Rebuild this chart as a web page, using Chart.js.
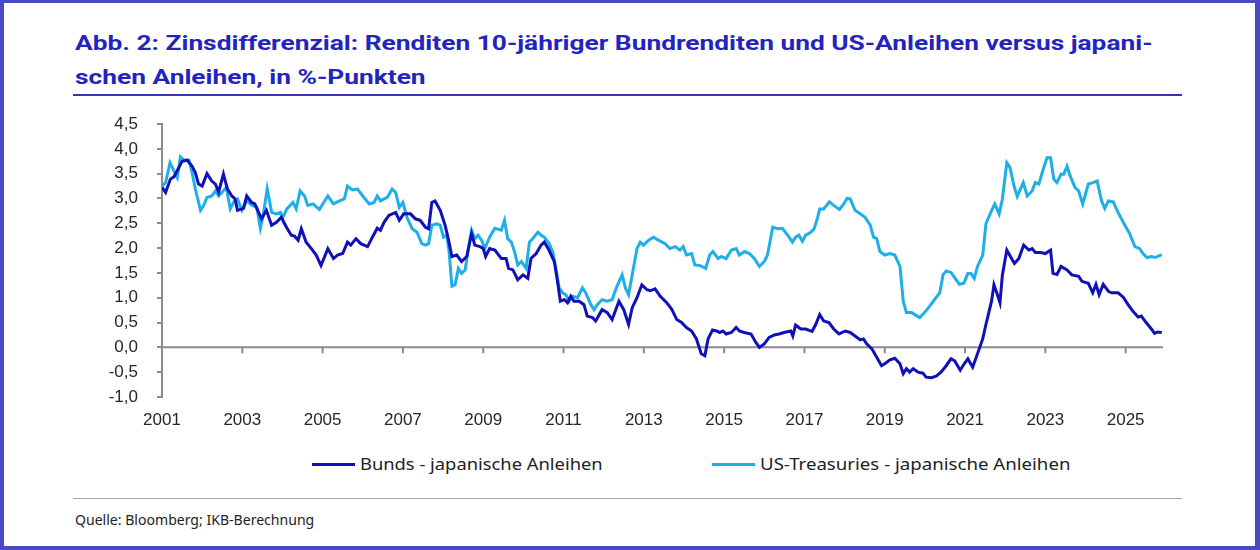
<!DOCTYPE html>
<html>
<head>
<meta charset="utf-8">
<script src="https://cdn.jsdelivr.net/npm/chart.js@4.4.1/dist/chart.umd.min.js"></script>
<style>
  html, body { margin: 0; padding: 0; background: #fff; }
  #frame { position: relative; width: 1260px; height: 550px; box-sizing: border-box;
    border-style: solid; border-color: #4a4ac6; border-width: 3px 5px 4px 4px; overflow: hidden; }
  .abs { position: absolute; white-space: nowrap; transform-origin: 0 50%; }
  .title { font-family: Roboto, 'Noto Sans', sans-serif; font-weight: 700; font-size: 21px;
    line-height: 21px; color: #2323c0; }
  .legtxt { font-family: 'Noto Sans', 'Open Sans', sans-serif; font-size: 16px; line-height: 20px; color: #222; }
  .foot { font-family: 'Noto Sans', 'Open Sans', sans-serif; font-size: 14px; line-height: 18px; color: #222; }
  #chartBox { position: absolute; left: -4px; top: 97px; }
</style>
</head>
<body>
<div id="frame">
  <div class="abs title" id="t1" style="left:71px; top:30px;">Abb. 2: Zinsdifferenzial: Renditen 10-jähriger Bundrenditen und US-Anleihen versus japani-</div>
  <div class="abs title" id="t2" style="left:71px; top:64px;">schen Anleihen, in %-Punkten</div>
  <div class="abs" style="left:69px; top:91px; width:1109px; height:1.5px; background:#3434b4;"></div>

  <div class="abs" style="left:308px; top:459.5px; width:43px; height:3px; background:#1010b8;"></div>
  <div class="abs legtxt" id="l1" style="left:356px; top:451px;">Bunds - japanische Anleihen</div>
  <div class="abs" style="left:708px; top:459.5px; width:43px; height:3px; background:#1eaee8;"></div>
  <div class="abs legtxt" id="l2" style="left:756px; top:451px;">US-Treasuries - japanische Anleihen</div>

  <div class="abs" style="left:69px; top:495px; width:1109px; height:1px; background:#a6a6a6;"></div>
  <div class="abs foot" id="f1" style="left:71px; top:508px;">Quelle: Bloomberg; IKB-Berechnung</div>

  <div id="chartBox"><canvas id="c" width="1260" height="345"></canvas></div>
</div>
<script>
// ---- Data (decimal year, %-points) ----
const bundsSeries = [
 [2001.01,3.22],[2001.09,3.12],[2001.21,3.39],[2001.30,3.44],[2001.50,3.75],[2001.63,3.77],[2001.75,3.65],[2001.83,3.52],[2001.91,3.29],[2002.00,3.25],
 [2002.12,3.50],[2002.24,3.35],[2002.33,3.29],[2002.41,3.13],[2002.53,3.49],[2002.63,3.19],[2002.74,3.05],[2002.82,2.99],[2002.88,2.76],[2003.03,2.80],
 [2003.11,3.05],[2003.23,2.92],[2003.31,2.89],[2003.48,2.59],[2003.60,2.76],[2003.73,2.46],[2003.85,2.52],[2003.97,2.62],[2004.10,2.42],[2004.22,2.26],
 [2004.30,2.24],[2004.39,2.16],[2004.47,2.39],[2004.59,2.12],[2004.72,1.99],[2004.84,1.86],[2004.96,1.65],[2005.13,1.99],[2005.27,1.79],[2005.37,1.86],
 [2005.50,1.89],[2005.62,2.12],[2005.70,2.06],[2005.83,2.19],[2005.95,2.09],[2006.12,2.03],[2006.24,2.22],[2006.36,2.40],[2006.44,2.36],[2006.53,2.52],
 [2006.65,2.66],[2006.82,2.72],[2006.91,2.56],[2007.02,2.69],[2007.19,2.69],[2007.31,2.59],[2007.43,2.56],[2007.56,2.42],[2007.64,2.39],[2007.72,2.92],
 [2007.80,2.95],[2007.93,2.76],[2008.05,2.46],[2008.13,2.19],[2008.22,1.83],[2008.34,1.86],[2008.46,1.73],[2008.59,1.83],[2008.71,2.29],[2008.79,2.06],
 [2008.92,2.03],[2009.00,1.99],[2009.06,1.83],[2009.16,1.99],[2009.29,1.96],[2009.45,1.79],[2009.57,1.79],[2009.63,1.59],[2009.74,1.56],[2009.86,1.36],
 [2009.99,1.46],[2010.11,1.39],[2010.19,1.79],[2010.32,1.89],[2010.44,2.06],[2010.52,2.12],[2010.62,1.99],[2010.77,1.73],[2010.85,1.33],[2010.92,0.93],
 [2011.02,0.96],[2011.10,0.90],[2011.18,1.03],[2011.26,0.93],[2011.39,0.93],[2011.51,0.86],[2011.59,0.63],[2011.72,0.60],[2011.80,0.53],[2011.96,0.76],
 [2012.09,0.70],[2012.21,0.56],[2012.38,0.93],[2012.50,0.76],[2012.62,0.46],[2012.71,0.80],[2012.83,1.00],[2012.95,1.26],[2013.08,1.16],[2013.16,1.14],
 [2013.28,1.18],[2013.41,1.03],[2013.57,0.90],[2013.70,0.76],[2013.82,0.56],[2013.94,0.50],[2014.06,0.40],[2014.19,0.33],[2014.31,0.17],[2014.43,-0.13],
 [2014.52,-0.17],[2014.60,0.17],[2014.71,0.35],[2014.81,0.33],[2014.89,0.30],[2014.97,0.33],[2015.05,0.27],[2015.18,0.30],[2015.30,0.40],[2015.38,0.33],
 [2015.50,0.30],[2015.67,0.27],[2015.79,0.10],[2015.88,0.00],[2016.00,0.07],[2016.12,0.20],[2016.25,0.25],[2016.37,0.27],[2016.49,0.30],[2016.66,0.33],
 [2016.71,0.23],[2016.78,0.45],[2016.86,0.40],[2016.91,0.37],[2017.03,0.37],[2017.19,0.32],[2017.28,0.46],[2017.38,0.66],[2017.48,0.53],[2017.61,0.50],
 [2017.73,0.37],[2017.86,0.27],[2018.02,0.33],[2018.14,0.30],[2018.26,0.23],[2018.39,0.15],[2018.47,0.17],[2018.55,0.07],[2018.68,-0.03],[2018.80,-0.20],
 [2018.92,-0.37],[2019.00,-0.33],[2019.13,-0.25],[2019.25,-0.22],[2019.38,-0.33],[2019.46,-0.53],[2019.54,-0.43],[2019.62,-0.50],[2019.71,-0.43],[2019.83,-0.50],
 [2019.95,-0.52],[2020.03,-0.60],[2020.16,-0.61],[2020.28,-0.58],[2020.40,-0.50],[2020.53,-0.37],[2020.65,-0.23],[2020.74,-0.27],[2020.88,-0.46],[2020.98,-0.33],
 [2021.07,-0.23],[2021.19,-0.40],[2021.31,-0.13],[2021.44,0.17],[2021.52,0.46],[2021.60,0.73],[2021.66,0.93],[2021.72,1.26],[2021.79,1.10],[2021.87,0.90],
 [2021.93,1.46],[2022.04,1.96],[2022.13,1.83],[2022.23,1.69],[2022.34,1.79],[2022.46,2.06],[2022.59,1.96],[2022.67,1.99],[2022.75,1.91],[2022.88,1.91],
 [2023.00,1.89],[2023.13,1.96],[2023.19,1.49],[2023.29,1.47],[2023.39,1.63],[2023.54,1.56],[2023.66,1.46],[2023.83,1.43],[2023.91,1.33],[2024.07,1.29],
 [2024.18,1.10],[2024.26,1.27],[2024.34,1.06],[2024.44,1.27],[2024.57,1.13],[2024.65,1.10],[2024.81,1.10],[2024.94,1.01],[2025.06,0.86],[2025.18,0.73],
 [2025.31,0.61],[2025.39,0.63],[2025.51,0.50],[2025.64,0.37],[2025.72,0.28],[2025.80,0.31],[2025.90,0.30]
];
const treasuriesSeries = [
 [2001.01,3.25],[2001.09,3.32],[2001.20,3.72],[2001.30,3.55],[2001.38,3.42],[2001.46,3.84],[2001.54,3.78],[2001.67,3.77],[2001.75,3.52],[2001.83,3.19],
 [2001.96,2.76],[2002.04,2.86],[2002.12,3.02],[2002.24,3.05],[2002.33,3.15],[2002.41,3.05],[2002.60,3.22],[2002.70,2.79],[2002.80,2.95],[2002.88,2.99],
 [2002.99,2.76],[2003.11,2.95],[2003.23,2.87],[2003.36,2.82],[2003.45,2.40],[2003.52,2.66],[2003.62,3.19],[2003.73,2.72],[2003.85,2.69],[2003.95,2.72],
 [2004.01,2.62],[2004.11,2.79],[2004.26,2.92],[2004.34,2.79],[2004.44,3.15],[2004.55,3.05],[2004.63,2.86],[2004.76,2.89],[2004.92,2.78],[2005.13,3.05],
 [2005.27,2.89],[2005.42,2.95],[2005.54,2.99],[2005.62,3.25],[2005.74,3.17],[2005.87,3.19],[2006.03,3.02],[2006.16,2.89],[2006.28,2.92],[2006.36,3.05],
 [2006.44,2.95],[2006.53,2.99],[2006.61,3.02],[2006.73,3.19],[2006.82,3.12],[2006.91,2.82],[2007.00,2.92],[2007.10,2.62],[2007.23,2.39],[2007.35,2.32],
 [2007.47,2.09],[2007.56,2.06],[2007.64,2.09],[2007.72,2.46],[2007.85,2.49],[2007.93,2.46],[2008.01,2.22],[2008.09,2.26],[2008.15,1.93],[2008.22,1.23],
 [2008.30,1.26],[2008.38,1.59],[2008.46,1.49],[2008.55,1.56],[2008.63,1.99],[2008.71,2.36],[2008.79,2.19],[2008.87,2.26],[2008.96,2.16],[2009.04,1.99],
 [2009.16,2.22],[2009.29,2.40],[2009.45,2.36],[2009.53,2.56],[2009.61,2.19],[2009.70,2.12],[2009.78,1.93],[2009.86,1.66],[2009.95,1.73],[2010.07,1.59],
 [2010.15,2.12],[2010.23,2.19],[2010.36,2.32],[2010.44,2.26],[2010.52,2.22],[2010.64,2.09],[2010.73,1.93],[2010.81,1.59],[2010.89,1.20],[2010.98,1.10],
 [2011.06,1.06],[2011.14,0.93],[2011.22,1.03],[2011.35,1.00],[2011.47,1.20],[2011.55,1.10],[2011.68,0.86],[2011.76,0.76],[2011.84,0.86],[2011.96,0.96],
 [2012.09,0.93],[2012.21,0.96],[2012.33,1.23],[2012.46,1.46],[2012.54,1.20],[2012.62,1.06],[2012.71,1.46],[2012.83,1.99],[2012.91,2.12],[2012.99,2.06],
 [2013.12,2.16],[2013.24,2.22],[2013.36,2.16],[2013.53,2.09],[2013.65,1.99],[2013.78,2.03],[2013.90,1.96],[2013.98,2.03],[2014.06,1.86],[2014.19,1.89],
 [2014.27,1.66],[2014.39,1.65],[2014.54,1.59],[2014.64,1.86],[2014.72,1.93],[2014.85,1.79],[2014.93,1.83],[2015.05,1.79],[2015.18,1.96],[2015.30,1.99],
 [2015.38,1.86],[2015.51,1.93],[2015.63,1.89],[2015.75,1.79],[2015.88,1.63],[2016.00,1.73],[2016.08,1.86],[2016.21,2.42],[2016.33,2.39],[2016.45,2.40],
 [2016.58,2.26],[2016.70,2.12],[2016.78,2.22],[2016.86,2.26],[2016.95,2.14],[2017.03,2.26],[2017.16,2.32],[2017.24,2.39],[2017.32,2.59],[2017.38,2.79],
 [2017.48,2.79],[2017.62,2.93],[2017.73,2.86],[2017.87,2.78],[2017.98,2.89],[2018.06,3.00],[2018.14,2.99],[2018.26,2.76],[2018.39,2.69],[2018.51,2.62],
 [2018.64,2.46],[2018.72,2.22],[2018.80,2.19],[2018.88,1.93],[2019.00,1.86],[2019.13,1.89],[2019.25,1.86],[2019.38,1.63],[2019.46,0.93],[2019.54,0.70],
 [2019.67,0.70],[2019.75,0.66],[2019.87,0.60],[2019.99,0.70],[2020.12,0.83],[2020.24,0.96],[2020.37,1.10],[2020.45,1.46],[2020.53,1.54],[2020.65,1.51],
 [2020.78,1.36],[2020.86,1.27],[2020.97,1.29],[2021.07,1.49],[2021.15,1.49],[2021.23,1.39],[2021.31,1.63],[2021.44,1.86],[2021.52,2.49],[2021.64,2.72],
 [2021.74,2.89],[2021.85,2.69],[2021.93,2.99],[2022.04,3.72],[2022.12,3.62],[2022.22,3.25],[2022.30,3.04],[2022.45,3.32],[2022.55,3.05],[2022.67,3.15],
 [2022.75,3.32],[2022.84,3.29],[2022.92,3.52],[2023.04,3.82],[2023.13,3.82],[2023.21,3.39],[2023.29,3.32],[2023.39,3.49],[2023.46,3.49],[2023.54,3.65],
 [2023.62,3.45],[2023.74,3.22],[2023.83,3.15],[2023.93,2.89],[2024.07,3.29],[2024.19,3.32],[2024.29,3.35],[2024.40,2.95],[2024.48,2.80],[2024.57,2.95],
 [2024.69,2.93],[2024.81,2.72],[2024.98,2.46],[2025.10,2.29],[2025.23,2.03],[2025.35,1.99],[2025.43,1.89],[2025.53,1.81],[2025.64,1.83],[2025.74,1.81],
 [2025.90,1.87]
];
const seriesNames = ['Bunds - japanische Anleihen', 'US-Treasuries - japanische Anleihen'];
const yearTicks = [2001, 2003, 2005, 2007, 2009, 2011, 2013, 2015, 2017, 2019, 2021, 2023, 2025];
const valueTicks = [-1.0, -0.5, 0.0, 0.5, 1.0, 1.5, 2.0, 2.5, 3.0, 3.5, 4.0, 4.5];
const xMin = 2001, xMax = 2025.93;

const axisGray = '#8c8c8c';
const zeroAxisPlugin = {
  id: 'zeroAxis',
  beforeDatasetsDraw(chart) {
    const {ctx, chartArea, scales} = chart;
    const y0 = scales.y.getPixelForValue(0);
    ctx.save();
    ctx.strokeStyle = axisGray;
    ctx.lineWidth = 2;
    ctx.beginPath();
    ctx.moveTo(chartArea.left, y0);
    ctx.lineTo(chartArea.right, y0);
    yearTicks.forEach(yr => {
      const px = scales.x.getPixelForValue(yr);
      ctx.moveTo(px, y0);
      ctx.lineTo(px, y0 + 6);
    });
    ctx.stroke();
    ctx.restore();
  }
};

Chart.defaults.font.family = "'Liberation Sans', Arial, sans-serif";
Chart.defaults.color = '#262626';

new Chart(document.getElementById('c'), {
  type: 'line',
  data: {
    datasets: [
      { label: seriesNames[0], data: bundsSeries.map(p => ({x: p[0], y: p[1]})),
        borderColor: '#1010b8', borderWidth: 3, pointRadius: 0, tension: 0, fill: false, order: 1 },
      { label: seriesNames[1], data: treasuriesSeries.map(p => ({x: p[0], y: p[1]})),
        borderColor: '#1eaee8', borderWidth: 3, pointRadius: 0, tension: 0, fill: false, order: 2 }
    ]
  },
  options: {
    responsive: false,
    animation: false,
    devicePixelRatio: 1,
    layout: { padding: { left: 4, right: 97, top: 24, bottom: 5 } },
    plugins: { legend: { display: false }, tooltip: { enabled: false }, title: { display: false } },
    scales: {
      x: {
        type: 'linear', min: xMin, max: xMax,
        afterBuildTicks: s => { s.ticks = yearTicks.map(v => ({value: v})); },
        afterFit: s => { s.height = 43; },
        grid: { display: false, drawTicks: false },
        border: { display: false },
        ticks: { padding: 13, font: { size: 17 }, color: '#262626', maxRotation: 0, autoSkip: false,
                 callback: v => String(v) }
      },
      y: {
        min: -1, max: 4.5,
        afterBuildTicks: s => { s.ticks = valueTicks.map(v => ({value: v})); },
        afterFit: s => { s.width = 158; s.paddingTop = 0; s.paddingBottom = 0; },
        grid: { drawOnChartArea: false, drawTicks: true, tickLength: 5, color: axisGray, lineWidth: 2 },
        border: { display: true, color: axisGray, width: 2 },
        ticks: { padding: 19, font: { size: 17 }, color: '#262626',
                 callback: v => v.toFixed(1).replace('.', ',') }
      }
    }
  },
  plugins: [zeroAxisPlugin]
});

function fitWidth(id, target) {
  const el = document.getElementById(id);
  const w = el.offsetWidth;
  const k = target / w;
  el.style.transform = 'scaleX(' + k + ')';
  return k;
}
function fitAll() {
  const k = fitWidth('t1', 1077);
  document.getElementById('t2').style.transform = 'scaleX(' + k + ')';
  fitWidth('l1', 243);
  fitWidth('l2', 310);
  fitWidth('f1', 239);
}
fitAll();
if (document.fonts && document.fonts.ready) document.fonts.ready.then(fitAll);
</script>
</body>
</html>
